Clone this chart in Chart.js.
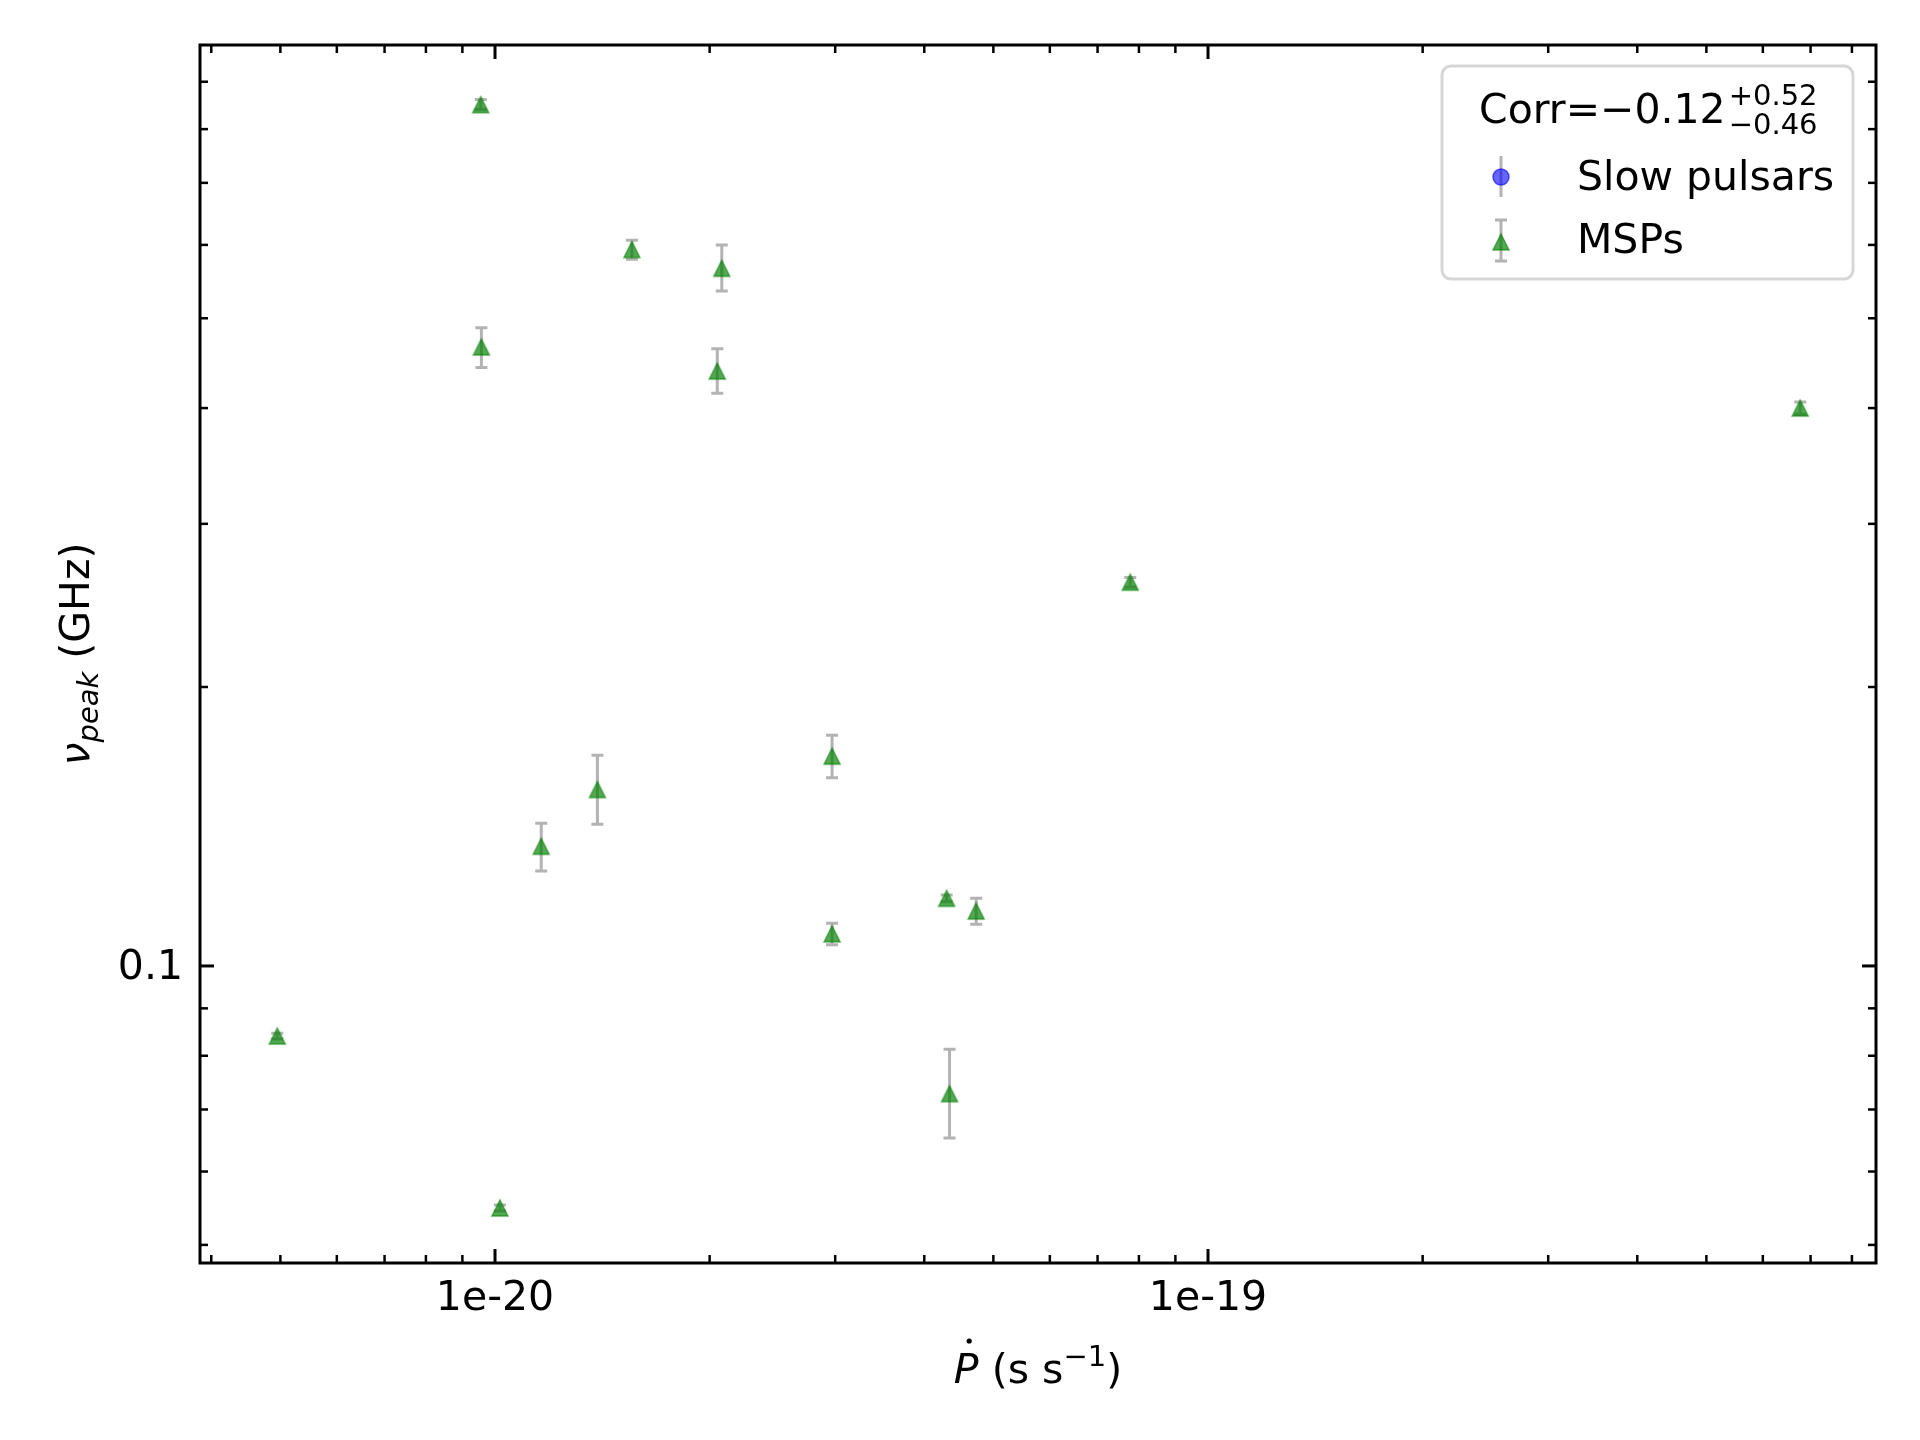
<!DOCTYPE html>
<html lang="en">
<head>
    <meta charset="UTF-8">
    <title>nu_peak vs Pdot</title>
    <style>
        body {
            margin: 0;
            background: #fff;
        }
        #wrap {
            width: 1920px;
            height: 1440px;
        }
    </style>
</head>
<body>
    <div id="wrap">
        <canvas id="peakChart" width="1920" height="1440"></canvas>
    </div>

    <script src="https://cdn.jsdelivr.net/npm/chart.js"></script>
    <script>
        // MSPs: period derivative (s/s) and peak frequency (GHz) with asymmetric errors
        const mspPdot = [9.55e-21, 9.57e-21, 1.556e-20, 2.08e-20, 2.05e-20, 6.77e-19, 7.78e-20, 2.97e-20,
                         1.392e-20, 1.161e-20, 2.97e-20, 4.30e-20, 4.73e-20, 4.95e-21, 4.34e-20, 1.016e-20];
        const mspPeak = [0.850, 0.4655, 0.593, 0.566, 0.4385, 0.400, 0.2595, 0.1684,
                         0.155, 0.1346, 0.1083, 0.1183, 0.1146, 0.0840, 0.0728, 0.0548];
        const mspErrLo = [0.010, 0.023, 0.014, 0.031, 0.0235, 0.006, 0.003, 0.0088,
                          0.0128, 0.008, 0.0029, 0.001, 0.0037, 0.0006, 0.0076, 0.0004];
        const mspErrHi = [0.011, 0.023, 0.014, 0.034, 0.025, 0.006, 0.003, 0.009,
                          0.0138, 0.008, 0.0029, 0.001, 0.0037, 0.0006, 0.0085, 0.0004];

        // slow pulsars: none fall in this panel, only the legend entry remains
        const slowPdot = [];
        const slowPeak = [];

        // axes
        const xRange = [3.857e-21, 8.647e-19];
        const yRange = [0.0478, 0.986];
        const xMajorTicks = [1e-20, 1e-19];
        const xTickLabels = ['1e-20', '1e-19'];
        const yMajorTicks = [0.1];
        const yTickLabels = ['0.1'];
        const corrTitle = ['Corr=\u22120.12', '+0.52', '\u22120.46'];

        const FONT = '"DejaVu Sans", sans-serif';
        const FS = 41;

        function minorTicks(lo, hi) {
            const out = [];
            for (let e = Math.floor(Math.log10(lo)); e <= Math.ceil(Math.log10(hi)); e++) {
                for (let m = 2; m <= 9; m++) {
                    const v = m * Math.pow(10, e);
                    if (v >= lo && v <= hi) out.push(v);
                }
            }
            return out;
        }

        function triangleMarker(size) {
            const c = document.createElement('canvas');
            c.width = size + 4;
            c.height = size + 4;
            const g = c.getContext('2d');
            const cx = c.width / 2, cy = c.height / 2, h = size / 2;
            g.beginPath();
            g.moveTo(cx, cy - h);
            g.lineTo(cx + h, cy + h);
            g.lineTo(cx - h, cy + h);
            g.closePath();
            g.fillStyle = 'rgba(0, 128, 0, 0.68)';
            g.fill();
            g.lineWidth = 1.5;
            g.strokeStyle = 'rgba(0, 128, 0, 0.6)';
            g.stroke();
            return c;
        }
        const triangle = triangleMarker(16);

        const ERR_COLOR = 'rgba(128, 128, 128, 0.6)';

        function drawErrBar(ctx, x, yTop, yBot, cap) {
            ctx.beginPath();
            ctx.moveTo(x, yTop);
            ctx.lineTo(x, yBot);
            if (cap) {
                ctx.moveTo(x - 6, yTop);
                ctx.lineTo(x + 6, yTop);
                ctx.moveTo(x - 6, yBot);
                ctx.lineTo(x + 6, yBot);
            }
            ctx.stroke();
        }

        // error bars under the markers
        const errorBars = {
            id: 'errorBars',
            beforeDatasetsDraw(chart) {
                const { ctx, chartArea, scales: { x, y } } = chart;
                ctx.save();
                ctx.beginPath();
                ctx.rect(chartArea.left, chartArea.top, chartArea.right - chartArea.left, chartArea.bottom - chartArea.top);
                ctx.clip();
                ctx.strokeStyle = ERR_COLOR;
                ctx.lineWidth = 3;
                mspPdot.forEach((p, i) => {
                    const px = x.getPixelForValue(p);
                    const top = y.getPixelForValue(mspPeak[i] + mspErrHi[i]);
                    const bot = y.getPixelForValue(mspPeak[i] - mspErrLo[i]);
                    drawErrBar(ctx, px, top, bot, true);
                });
                ctx.restore();
            }
        };

        // matplotlib-like frame: spines, inward ticks on all sides, labels
        const frame = {
            id: 'frame',
            afterDraw(chart) {
                const { ctx, chartArea: a, scales: { x, y } } = chart;
                ctx.save();
                ctx.strokeStyle = '#000';
                ctx.fillStyle = '#000';

                const tick = (x1, y1, x2, y2, w) => {
                    ctx.lineWidth = w;
                    ctx.beginPath();
                    ctx.moveTo(x1, y1);
                    ctx.lineTo(x2, y2);
                    ctx.stroke();
                };
                minorTicks(xRange[0], xRange[1]).forEach(v => {
                    const px = x.getPixelForValue(v);
                    tick(px, a.bottom, px, a.bottom - 8, 2.5);
                    tick(px, a.top, px, a.top + 8, 2.5);
                });
                xMajorTicks.forEach(v => {
                    const px = x.getPixelForValue(v);
                    tick(px, a.bottom, px, a.bottom - 14, 3);
                    tick(px, a.top, px, a.top + 14, 3);
                });
                minorTicks(yRange[0], yRange[1]).forEach(v => {
                    const py = y.getPixelForValue(v);
                    tick(a.left, py, a.left + 8, py, 2.5);
                    tick(a.right, py, a.right - 8, py, 2.5);
                });
                yMajorTicks.forEach(v => {
                    const py = y.getPixelForValue(v);
                    tick(a.left, py, a.left + 14, py, 3);
                    tick(a.right, py, a.right - 14, py, 3);
                });

                ctx.lineWidth = 3;
                ctx.strokeRect(a.left, a.top, a.right - a.left, a.bottom - a.top);

                // tick labels
                ctx.font = `${FS}px ${FONT}`;
                ctx.textAlign = 'center';
                ctx.textBaseline = 'alphabetic';
                xMajorTicks.forEach((v, i) => {
                    ctx.fillText(xTickLabels[i], x.getPixelForValue(v), a.bottom + 47);
                });
                ctx.textAlign = 'right';
                ctx.textBaseline = 'middle';
                yMajorTicks.forEach((v, i) => {
                    ctx.fillText(yTickLabels[i], a.left - 17, y.getPixelForValue(v) + 2);
                });

                // x label: P-dot (s s^-1)
                ctx.textAlign = 'left';
                ctx.textBaseline = 'alphabetic';
                const small = Math.round(FS * 0.7);
                const fItal = `italic ${FS}px ${FONT}`, fReg = `${FS}px ${FONT}`, fSmall = `${small}px ${FONT}`;
                const parts = [
                    { t: 'P', f: fItal, dy: 0 },
                    { t: ' (s s', f: fReg, dy: 0 },
                    { t: '\u22121', f: fSmall, dy: -17 },
                    { t: ')', f: fReg, dy: 0 }
                ];
                let total = 0;
                parts.forEach(p => { ctx.font = p.f; p.w = ctx.measureText(p.t).width; total += p.w; });
                let cx = (a.left + a.right) / 2 - total / 2;
                const base = 1383;
                parts.forEach((p, i) => {
                    ctx.font = p.f;
                    ctx.fillText(p.t, cx, base + p.dy);
                    if (i === 0) {
                        ctx.beginPath();
                        ctx.arc(cx + p.w * 0.62, base - 42, 2.6, 0, Math.PI * 2);
                        ctx.fill();
                    }
                    cx += p.w;
                });

                // y label: nu_peak (GHz)
                ctx.save();
                ctx.translate(89, (a.top + a.bottom) / 2);
                ctx.rotate(-Math.PI / 2);
                const yparts = [
                    { t: '\u03bd', f: fItal, dy: 0 },
                    { t: 'peak', f: `italic ${small}px ${FONT}`, dy: 9 },
                    { t: ' (GHz)', f: fReg, dy: 0 }
                ];
                total = 0;
                yparts.forEach(p => { ctx.font = p.f; p.w = ctx.measureText(p.t).width; total += p.w; });
                cx = -total / 2;
                yparts.forEach(p => {
                    ctx.font = p.f;
                    ctx.fillText(p.t, cx, p.dy);
                    cx += p.w;
                });
                ctx.restore();

                ctx.restore();
            }
        };

        // legend box drawn inside the axes, upper right
        const legendBox = {
            id: 'legendBox',
            afterDraw(chart) {
                const { ctx } = chart;
                const ds = chart.data.datasets;
                ctx.save();
                const bx = 1442, by = 66, bw = 411, bh = 213, r = 9;
                ctx.beginPath();
                ctx.roundRect(bx, by, bw, bh, r);
                ctx.fillStyle = 'rgba(255, 255, 255, 0.8)';
                ctx.fill();
                ctx.lineWidth = 3;
                ctx.strokeStyle = 'rgba(204, 204, 204, 0.8)';
                ctx.stroke();

                // title with super/subscripts
                ctx.fillStyle = '#000';
                ctx.textAlign = 'left';
                ctx.textBaseline = 'alphabetic';
                ctx.font = `${FS}px ${FONT}`;
                ctx.fillText(corrTitle[0], 1479, 123);
                const tw = ctx.measureText(corrTitle[0]).width;
                ctx.font = `${Math.round(FS * 0.7)}px ${FONT}`;
                ctx.fillText(corrTitle[1], 1479 + tw + 3, 105);
                ctx.fillText(corrTitle[2], 1479 + tw + 3, 134);

                // slow pulsars handle
                ctx.strokeStyle = ERR_COLOR;
                ctx.lineWidth = 3;
                drawErrBar(ctx, 1501, 156, 197, false);
                ctx.beginPath();
                ctx.arc(1501, 177, 8, 0, Math.PI * 2);
                ctx.fillStyle = 'rgba(0, 0, 255, 0.6)';
                ctx.fill();
                ctx.lineWidth = 1.5;
                ctx.strokeStyle = 'rgba(0, 0, 255, 0.6)';
                ctx.stroke();

                // MSP handle
                ctx.strokeStyle = ERR_COLOR;
                ctx.lineWidth = 3;
                drawErrBar(ctx, 1501, 220, 261, true);
                ctx.drawImage(triangle, 1501 - triangle.width / 2, 242 - triangle.height / 2);

                ctx.fillStyle = '#000';
                ctx.font = `${FS}px ${FONT}`;
                ctx.textBaseline = 'middle';
                ctx.fillText(ds[0].label, 1577, 179);
                ctx.fillText(ds[1].label, 1577, 242);
                ctx.restore();
            }
        };

        const ctx = document.getElementById('peakChart').getContext('2d');
        new Chart(ctx, {
            type: 'scatter',
            data: {
                datasets: [{
                    label: 'Slow pulsars',
                    data: slowPdot.map((p, i) => ({ x: p, y: slowPeak[i] })),
                    pointStyle: 'circle',
                    pointRadius: 8,
                    backgroundColor: 'rgba(0, 0, 255, 0.6)',
                    borderColor: 'rgba(0, 0, 255, 0.6)'
                }, {
                    label: 'MSPs',
                    data: mspPdot.map((p, i) => ({ x: p, y: mspPeak[i] })),
                    pointStyle: triangle,
                    pointRadius: 8
                }]
            },
            options: {
                responsive: false,
                devicePixelRatio: 1,
                animation: false,
                events: [],
                layout: {
                    padding: { left: 200, top: 45, right: 44, bottom: 177 }
                },
                scales: {
                    x: { type: 'logarithmic', min: xRange[0], max: xRange[1], display: false },
                    y: { type: 'logarithmic', min: yRange[0], max: yRange[1], display: false }
                },
                plugins: {
                    legend: { display: false },
                    tooltip: { enabled: false }
                }
            },
            plugins: [errorBars, frame, legendBox]
        });
    </script>
</body>
</html>
